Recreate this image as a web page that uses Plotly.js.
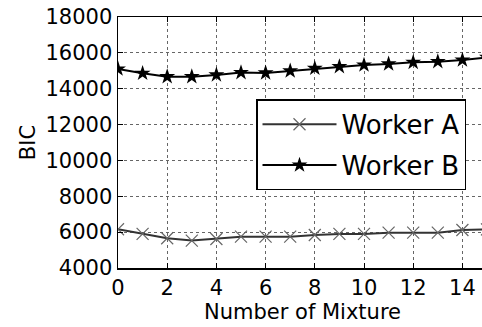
<!DOCTYPE html>
<html>
<head>
<meta charset="utf-8">
<script src="https://cdn.plot.ly/plotly-3.0.1.min.js"></script>
<style>
html,body{margin:0;padding:0;overflow:hidden;background:#fff;}
#chart{width:490px;height:327px;}
</style>
</head>
<body>
<div id="chart"></div>
<script>
const mixtures = [0,1,2,3,4,5,6,7,8,9,10,11,12,13,14,15];
const workerA = [6160,5900,5660,5530,5620,5750,5750,5750,5840,5900,5900,5970,5970,5970,6120,6150];
const workerB = [15100,14860,14670,14670,14770,14900,14880,14990,15140,15230,15320,15380,15470,15510,15600,15750];
const xTicks = [0,2,4,6,8,10,12,14];
const yTicks = [4000,6000,8000,10000,12000,14000,16000,18000];

const font = {family: 'DejaVu Sans, sans-serif', color: '#000'};

const traces = [
  {x: mixtures, y: workerA, name: 'Worker A', legendgroup: 'a', mode: 'lines+markers',
   line: {color: '#333', width: 2},
   marker: {symbol: 'x-thin-open', size: 12, color: '#666', line: {color: '#666', width: 1.2}}},
  {x: mixtures, y: workerB, name: 'Worker B', legendgroup: 'b', mode: 'lines+markers',
   line: {color: '#000', width: 2},
   marker: {symbol: 'star', size: 12, color: '#000'}}
];

const layout = {
  width: 490, height: 327,
  margin: {l: 118, r: 3, t: 17, b: 59},
  paper_bgcolor: '#fff', plot_bgcolor: '#fff',
  font: font,
  showlegend: true,
  legend: {x: 0.374, y: 0.672, xanchor: 'left', yanchor: 'top',
           bgcolor: '#fff', bordercolor: '#000', borderwidth: 1.5,
           font: {family: 'DejaVu Sans, sans-serif', size: 26, color: '#000'},
           itemwidth: 74, tracegroupgap: 4},
  xaxis: {range: [0, 15], tickvals: xTicks, ticktext: xTicks.map(String),
          ticks: 'inside', ticklen: 5, tickcolor: '#000', tickwidth: 1,
          showline: true, linecolor: '#000', linewidth: 1.5, mirror: 'ticks',
          showgrid: true, gridcolor: '#000', gridwidth: 0.6, griddash: 'dot',
          zeroline: false, tickfont: {size: 21}},
  yaxis: {range: [4000, 18000], tickvals: yTicks, ticktext: yTicks.map(String),
          ticks: 'inside', ticklen: 5, tickcolor: '#000', tickwidth: 1,
          showline: true, linecolor: '#000', linewidth: 1.5, mirror: 'ticks',
          showgrid: true, gridcolor: '#000', gridwidth: 0.6, griddash: 'dot',
          zeroline: false, tickfont: {size: 21},
          title: {text: 'BIC', font: {size: 21}, standoff: 4}},
  annotations: [{text: 'Number of Mixture', xref: 'paper', yref: 'paper', x: 0.5, y: 0,
                 xanchor: 'center', yanchor: 'middle', yshift: -44, showarrow: false,
                 font: {size: 21}}]
};

Plotly.newPlot('chart', traces, layout, {displayModeBar: false, staticPlot: true});
</script>
</body>
</html>
